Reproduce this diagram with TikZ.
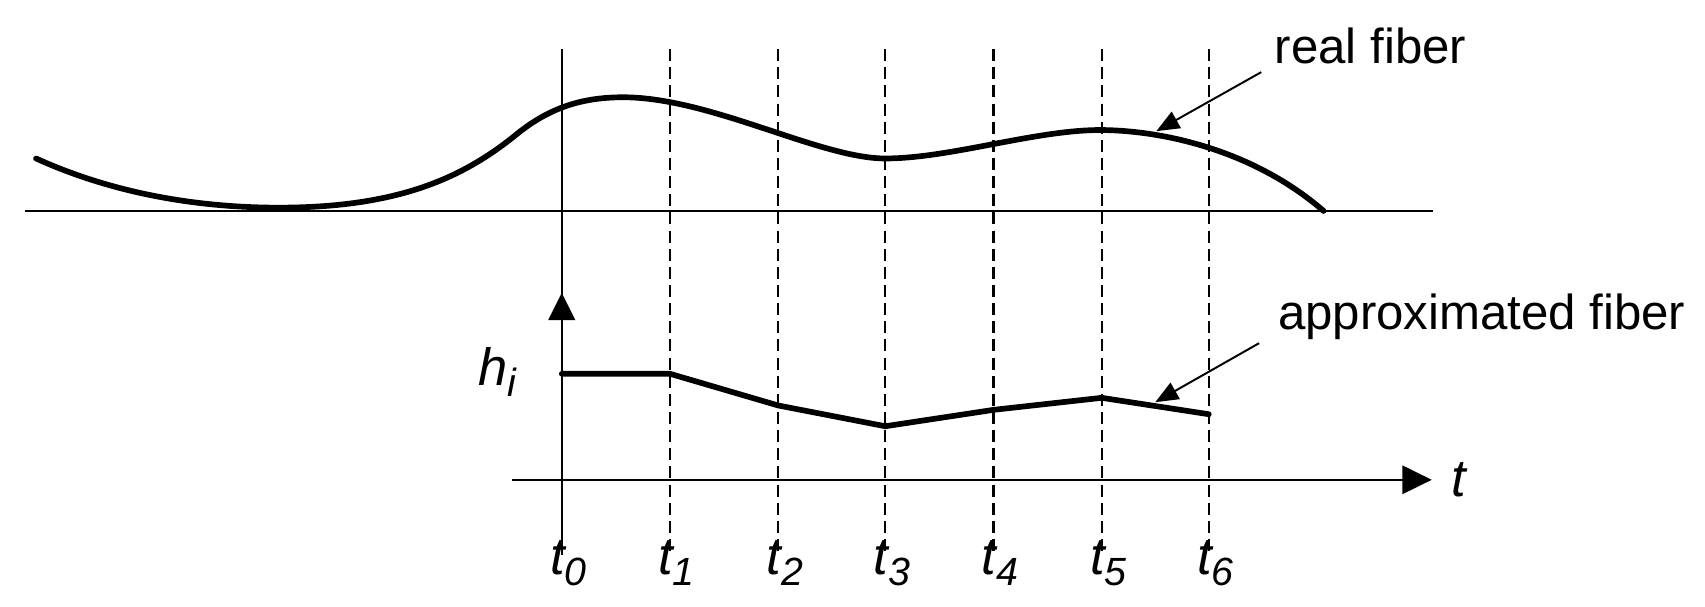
\documentclass[tikz,border=0pt]{standalone}
\usepackage{fontspec}
\setmainfont{Liberation Sans}
\usetikzlibrary{arrows.meta}
\newcommand\subsc[1]{\raisebox{-0.4ex}{\fontsize{18}{18}\selectfont #1}}
\begin{document}
\begin{tikzpicture}[x=0.5pt,y=-0.5pt,
  thinline/.style={line width=1.1pt},
  fiber/.style={line width=2.6pt, line join=round, line cap=round},
  gridline/.style={line width=1pt, dash pattern=on 5.5pt off 2.8pt},
  leader/.style={line width=0.9pt, -{Triangle[length=10.5pt,width=8.5pt]}},
  lbl/.style={font=\fontsize{22.5}{27}\selectfont, inner sep=0pt, anchor=west},
  tlbl/.style={font=\fontsize{24}{28}\selectfont\itshape, inner sep=0pt}]
\useasboundingbox (0,0) rectangle (1560,555);
% baseline of real fiber
\coordinate (bl0) at (23,193);
\coordinate (bl1) at (1311,193);
\draw[thinline] (bl0) -- (bl1);
% vertical h axis
\coordinate (v0) at (514,45);
\coordinate (v1) at (514,508);
\draw[thinline] (v0) -- (v1);
\coordinate (vtip) at (514,268);
\fill (vtip) -- ++(-12.5,25) -- ++(25,0) -- cycle;
% dashed time lines
\foreach \i/\x in {1/613,2/712,3/810,4/909,5/1008,6/1106}{
  \coordinate (d\i a) at (\x,45);
  \coordinate (d\i b) at (\x,508);
  \draw[gridline] (d\i a) -- (d\i b);
}
% time axis
\coordinate (ax0) at (468,439);
\coordinate (ax1) at (1310,439);
\draw[thinline, -{Triangle[length=13.5pt,width=13pt]}] (ax0) -- (ax1);
\node[tlbl, anchor=west] (tl) at (1328,439) {t};
% real fiber
\coordinate (f0) at (33,145);
\coordinate (f1) at (255,190);
\coordinate (f2) at (470,125);
\coordinate (f3) at (570,89);
\coordinate (f4) at (810,145);
\coordinate (f5) at (1010,119);
\coordinate (f6) at (1211,193);
\draw[fiber] (f0) .. controls (110,180) and (190,190) .. (f1)
  .. controls (360,190) and (420,165) .. (f2)
  .. controls (500,100) and (530,89) .. (f3)
  .. controls (650,89) and (750,145) .. (f4)
  .. controls (870,145) and (950,118) .. (f5)
  .. controls (1070,120) and (1150,140) .. (f6);
% approximated fiber
\coordinate (p0) at (514,342);
\coordinate (p1) at (613,342);
\coordinate (p2) at (712,371);
\coordinate (p3) at (810,390);
\coordinate (p4) at (909,375);
\coordinate (p5) at (1008,364);
\coordinate (p6) at (1106,379);
\draw[fiber] (p0) -- (p1) -- (p2) -- (p3) -- (p4) -- (p5) -- (p6);
% labels
\node[tlbl] (hi) at (455,340) {h\subsc{i}};
\foreach \i/\x in {0/514,1/613,2/712,3/810,4/909,5/1008,6/1106}{
  \node[tlbl] (t\i) at (\x+6,515) {t\subsc{\i}};
}
\node[lbl] (real) at (1166,42) {real fiber};
\node[lbl] (appr) at (1169,290) {approximated fiber};
\coordinate (r0) at (1154,66);
\coordinate (r1) at (1058,120);
\draw[leader] (r0) -- (r1);
\coordinate (a0) at (1152,314);
\coordinate (a1) at (1057,368);
\draw[leader] (a0) -- (a1);
\end{tikzpicture}
\end{document}
